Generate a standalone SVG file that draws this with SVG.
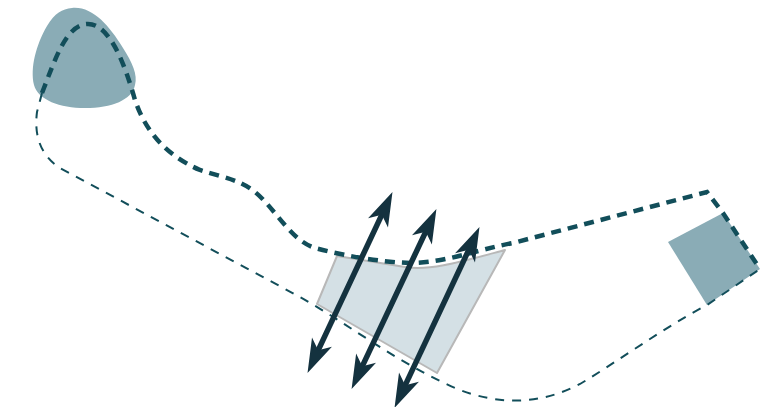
<svg xmlns="http://www.w3.org/2000/svg" width="763" height="407" viewBox="0 0 763 407">
<style>
.shape{fill:#8aacb6;stroke:none}
.zone{fill:#d4e0e5;stroke:#b8b8b8;stroke-width:2;stroke-linejoin:round}
.thick{fill:none;stroke:#124e5a;stroke-width:4.5;stroke-dasharray:10 7}
.thin{fill:none;stroke:#124e5a;stroke-width:2;stroke-dasharray:9 8}
.arrow{fill:none;stroke:#14323f;stroke-width:5.5;marker-start:url(#head);marker-end:url(#head)}
</style>
<defs>
<marker id="head" markerUnits="userSpaceOnUse" orient="auto-start-reverse" refX="0" refY="0" markerWidth="60" markerHeight="60" overflow="visible">
<path d="M23,0 L-11,-11 L-2,0 L-11,11 Z" fill="#14323f"/>
</marker>
</defs>
<rect width="763" height="407" fill="#ffffff"/>
<g id="blob"><path class="shape" d="M72,8 C92,6 109,25 123,48 C132,62 138,75 135,85 C132,100 112,108 85,108 C60,108 38,100 34,85 C30,68 36,45 47,26 C55,13 62,9 72,8 Z"/></g>
<g id="square"><polygon class="shape" points="668,242 723,213 760,269 707,305"/></g>
<g id="zone"><path class="zone" d="M337,256 L405,267 C430,271 460,262 505,250 L437,373 L317,304 Z"/></g>
<g id="connectors">
<path class="thin" d="M42,93 L37,112 C34,135 40,155 60,168 L300,297 C350,325 400,365 460,390 C500,405 540,405 580,384 C620,360 660,330 707,305 L760,269"/>
<path class="thick" d="M42,93 C55,60 66,24 88,24 C110,24 125,65 135,100 C145,130 165,155 200,170 C225,178 240,180 255,192 C275,208 290,240 315,248 C345,256 380,262 410,263 C445,263 475,250 513,243 L707,192 L723,213 L760,269"/>
<line class="arrow" x1="317.3" y1="352.1" x2="382.7" y2="212.9"/>
<line class="arrow" x1="361.4" y1="368.1" x2="426.6" y2="229.9"/>
<line class="arrow" x1="404.3" y1="387.1" x2="469.7" y2="247.9"/>
</g>
</svg>
